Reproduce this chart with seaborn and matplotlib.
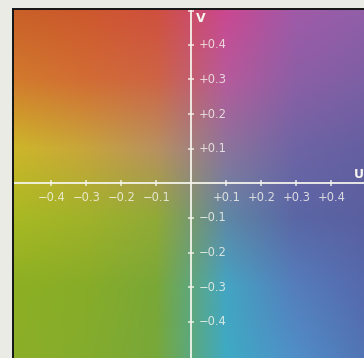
import numpy as np
import matplotlib.pyplot as plt
import seaborn as sns

# colour samples, one list per row (v from top to bottom)
u_samples = [-0.5, -0.3, -0.1, 0.1, 0.3, 0.5]
v_samples = [0.5, 0.3, 0.1, -0.1, -0.3, -0.5]
row_v_p05 = [(200, 95, 40), (205, 88, 45), (207, 80, 62), (202, 72, 145), (160, 90, 168), (145, 95, 168)]
row_v_p03 = [(210, 122, 45), (210, 108, 52), (206, 100, 68), (182, 90, 155), (140, 95, 165), (125, 95, 165)]
row_v_p01 = [(205, 182, 42), (200, 165, 60), (185, 145, 95), (140, 115, 155), (110, 100, 165), (100, 95, 160)]
row_v_m01 = [(168, 185, 35), (160, 178, 42), (145, 170, 55), (95, 135, 165), (90, 102, 165), (90, 95, 160)]
row_v_m03 = [(140, 175, 35), (135, 172, 40), (122, 168, 55), (68, 165, 195), (85, 125, 188), (85, 105, 172)]
row_v_m05 = [(140, 175, 40), (132, 172, 45), (120, 168, 58), (62, 170, 195), (80, 142, 200), (82, 115, 180)]

u_ticks = [-0.4, -0.3, -0.2, -0.1, 0.1, 0.2, 0.3, 0.4]
u_labels = ["\u22120.4", "\u22120.3", "\u22120.2", "\u22120.1", "+0.1", "+0.2", "+0.3", "+0.4"]
v_ticks = [0.4, 0.3, 0.2, 0.1, -0.1, -0.2, -0.3, -0.4]
v_labels = ["+0.4", "+0.3", "+0.2", "+0.1", "\u22120.1", "\u22120.2", "\u22120.3", "\u22120.4"]

sns.set_theme(style="white")
plt.rcParams['font.family'] = ['DejaVu Sans']

field = np.array([row_v_p05, row_v_p03, row_v_p01,
                  row_v_m01, row_v_m03, row_v_m05], dtype=np.uint8)

fig = plt.figure(figsize=(3.64, 3.58), dpi=100, facecolor='#ebebe6')
ax = fig.add_axes([13 / 364, 0, 1 - 13 / 364, (358 - 9) / 358])

half = (u_samples[1] - u_samples[0]) / 2
ax.imshow(
    field,
    extent=[u_samples[0] - half, u_samples[-1] + half,
            v_samples[-1] - half, v_samples[0] + half],
    origin='upper',
    interpolation='bilinear',
    aspect='auto'
)

ax.set_xlim(-0.51, 0.493)
ax.set_ylim(-0.504, 0.503)
ax.set_xticks([])
ax.set_yticks([])

for side in ['right', 'bottom']:
    ax.spines[side].set_visible(False)
for side in ['left', 'top']:
    ax.spines[side].set_color('#151515')
    ax.spines[side].set_linewidth(1.4)

pale = '#f6f6ee'

ax.axvline(0, color=pale, lw=1.4, alpha=0.9)
ax.axhline(0, color=pale, lw=1.4, alpha=0.9)

ax.scatter(u_ticks, [0] * len(u_ticks), marker='|', s=22,
           color=pale, linewidths=1.1, alpha=0.9, zorder=3)
ax.scatter([0] * len(v_ticks), v_ticks, marker='_', s=22,
           color=pale, linewidths=1.1, alpha=0.9, zorder=3)
ax.scatter([0], [0.497], marker='_', s=22, color=pale,
           linewidths=1.1, alpha=0.9, zorder=3)

for u, lab in zip(u_ticks, u_labels):
    ax.annotate(lab, (u, 0), xytext=(0, -14), textcoords='offset pixels',
                ha='center', va='center', fontsize=8.3, color=pale, alpha=0.82)

for v, lab in zip(v_ticks, v_labels):
    ax.annotate(lab, (0, v), xytext=(7, 0), textcoords='offset pixels',
                ha='left', va='center', fontsize=8.3, color=pale, alpha=0.82)

ax.annotate("V", (0, 0.503), xytext=(9, -10), textcoords='offset pixels',
            ha='center', va='center', fontsize=9, fontweight='bold',
            color=pale)
ax.annotate("U", (0.493, 0), xytext=(-5, 9), textcoords='offset pixels',
            ha='center', va='center', fontsize=9, fontweight='bold',
            color=pale)

fig.savefig("out.png", dpi=100, facecolor=fig.get_facecolor())
plt.close()
